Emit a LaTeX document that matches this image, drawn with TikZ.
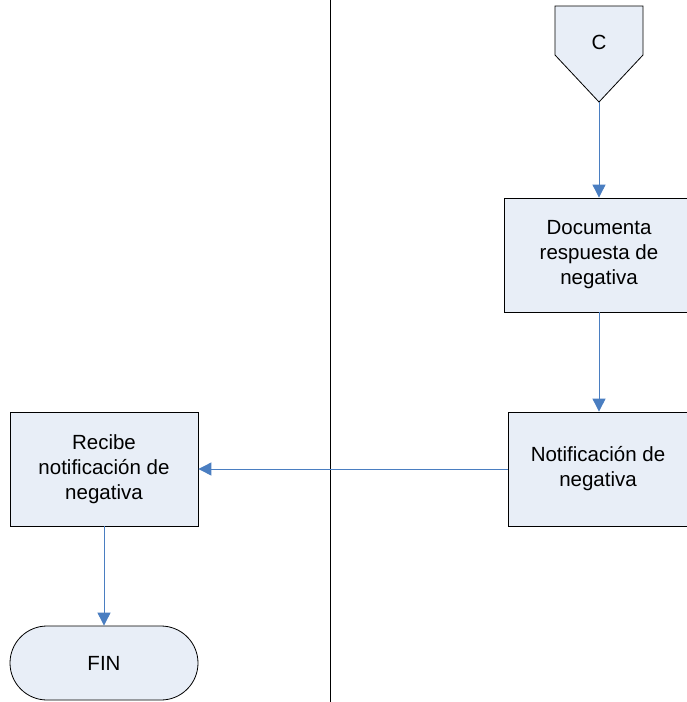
\documentclass[tikz,border=0pt]{standalone}
\usepackage{fontspec}
\setmainfont{Liberation Sans}
\usetikzlibrary{arrows.meta,shapes.misc}
\definecolor{boxfill}{RGB}{232,238,247}
\definecolor{flowblue}{RGB}{74,126,193}
\tikzset{
  proc/.style={draw=black, fill=boxfill, line width=0.8pt, align=center,
    minimum width=188pt, minimum height=114pt, inner sep=0pt,
    font=\fontsize{20.5}{25}\selectfont},
  term/.style={proc, rounded rectangle, minimum height=74pt},
  flow/.style={draw=flowblue, line width=0.9pt, -{Triangle[width=13pt,length=13pt]}}
}
\begin{document}
\begin{tikzpicture}[x=1pt,y=-1pt]
      \clip (0,0) rectangle (687,702);
      \fill[white] (0,0) rectangle (687,702);
      % lane divider
      \draw[line width=0.8pt] (330,0) -- (330,702);
      % off-page connector
      \draw[fill=boxfill, line width=0.8pt]
        (555,6) -- (643,6) -- (643,55) -- (599,102) -- (555,55) -- cycle;
      \node[font=\fontsize{20.5}{25}\selectfont] (c) at (599,42) {C};
      \coordinate (ctip) at (599,102);
      \node[proc, minimum width=190pt] (doc) at (599,255) {Documenta\\respuesta de\\negativa};
      \node[proc, minimum width=180pt] (notif) at (598,469) {Notificación de\\negativa};
      \node[proc] (recibe) at (104,469) {Recibe\\notificación de\\negativa};
      \node[term] (fin) at (104,663) {FIN};
      \begin{scope}[flow]
        \draw (ctip) to (doc);
        \draw (doc) to (notif.north -| doc);
        \draw (notif.west) to (recibe.east);
        \draw (recibe) to (fin);
      \end{scope}
    \end{tikzpicture}
\end{document}
